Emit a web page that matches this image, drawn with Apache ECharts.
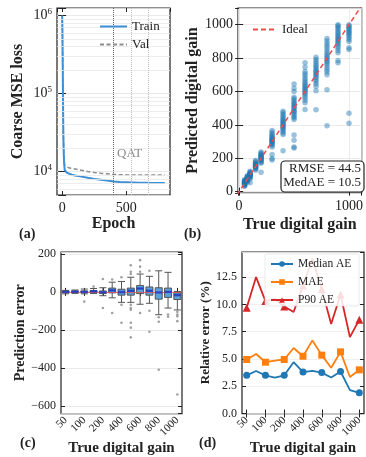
<!DOCTYPE html>
<html><head><meta charset="utf-8">
<script src="https://cdn.jsdelivr.net/npm/echarts@6/dist/echarts.min.js"></script>
<style>html,body{margin:0;padding:0;background:#fff}#c{width:366px;height:457px}</style>
</head><body><div id="c"></div>
<script>
const FONT = 'Liberation Serif';

// ---------- (a) training curves ----------
const epochs    = [0, 2, 4, 6, 8, 10, 13, 16, 20, 25, 35, 50, 75, 100, 150, 200, 250, 300, 350, 400, 450, 500, 550, 600, 650, 700, 750, 800];
const trainLoss = [1.0e6, 7e5, 3e5, 1.2e5, 5e4, 2.6e4, 1.6e4, 1.25e4, 1.05e4, 1.0e4, 9.7e3, 9.4e3, 9.1e3, 8.9e3, 8.6e3, 8.3e3, 8.05e3, 7.85e3, 7.65e3, 7.45e3, 7.35e3, 7.3e3, 7.25e3, 7.2e3, 7.18e3, 7.15e3, 7.12e3, 7.1e3];
const valLoss   = [9.0e5, 6e5, 2.8e5, 1.1e5, 4.8e4, 2.6e4, 1.7e4, 1.35e4, 1.2e4, 1.17e4, 1.15e4, 1.12e4, 1.1e4, 1.08e4, 1.04e4, 1.0e4, 9.7e3, 9.5e3, 9.35e3, 9.2e3, 9.1e3, 9.05e3, 9.05e3, 9.0e3, 9.0e3, 9.0e3, 9.0e3, 9.0e3];
const qatEpoch = 400;
const phaseEpochs = [540, 670];
const logMinorGrid = [6e3, 7e3, 8e3, 9e3, 2e4, 3e4, 4e4, 5e4, 6e4, 7e4, 8e4, 9e4, 2e5, 3e5, 4e5, 5e5, 6e5, 7e5, 8e5, 9e5];

// ---------- (b) predicted vs true ----------
const trueGains = [50, 75, 100, 150, 200, 300, 400, 500, 600, 700, 800, 900, 1000];
const pred50   = [32, 36, 40, 42, 44, 46, 48, 50, 52, 54, 55, 57, 58, 60, 62, 65, 68, 72];
const pred75   = [58, 62, 66, 68, 70, 72, 74, 76, 78, 80, 82, 85, 88, 92, 96];
const pred100  = [54, 78, 84, 88, 92, 95, 98, 100, 102, 104, 106, 108, 110, 114, 118, 122];
const pred150  = [128, 135, 140, 144, 148, 150, 152, 155, 158, 160, 163, 166, 170, 175, 180, 186];
const pred200  = [116, 170, 176, 182, 188, 192, 196, 200, 204, 208, 212, 216, 220, 226, 232, 238];
const pred300  = [190, 198, 222, 268, 276, 284, 290, 296, 300, 304, 308, 312, 318, 324, 330, 338, 346, 356, 366];
const pred400  = [245, 342, 352, 362, 372, 380, 388, 394, 400, 406, 412, 418, 426, 434, 442, 452, 462, 472, 482];
const pred500  = [262, 268, 308, 340, 432, 442, 452, 462, 472, 480, 488, 496, 504, 512, 520, 528, 536, 546, 556, 566, 600, 620, 645];
const pred600  = [492, 532, 548, 562, 574, 586, 596, 604, 612, 620, 628, 636, 646, 656, 668, 680, 694, 706, 720, 745, 772];
const pred700  = [490, 605, 632, 646, 660, 672, 684, 694, 702, 710, 718, 726, 736, 746, 756, 768, 780, 792, 805];
const pred800  = [395, 610, 700, 716, 730, 744, 758, 770, 780, 790, 800, 810, 820, 832, 846, 860, 874, 888, 902, 918];
const pred900  = [772, 786, 832, 846, 860, 872, 884, 894, 902, 910, 918, 926, 934, 944, 954, 964, 974, 984, 994, 1000];
const pred1000 = [410, 470, 852, 862, 900, 912, 924, 934, 944, 952, 960, 968, 976, 984, 992, 1000];
const predLists = [pred50, pred75, pred100, pred150, pred200, pred300, pred400, pred500, pred600, pred700, pred800, pred900, pred1000];
const idealLine = [[-100, -100], [1300, 1300]];
const rmseValue = 44.5;
const medaeValue = 10.5;

// ---------- (c) prediction error boxplots ----------
const gainLabels = ['50', '75', '100', '150', '200', '300', '400', '500', '600', '700', '800', '900', '1000'];
const boxLow  = [-10, -8, -10, -8, -20, -31, -55, -55, -65, -60, -120, -85, -95];
const boxQ1   = [-4, -3, -4, -2, -8, -5, -17, -17, -9, -17, -38, -29, -40];
const boxMed  = [0, 1, 0, 3, -2, 8, -1, 6, 18, 6, -3, 0, -17];
const boxQ3   = [4, 5, 5, 7, 5, 20, 14, 20, 34, 26, 22, 20, -5];
const boxHigh = [8, 10, 15, 18, 22, 51, 55, 77, 94, 82, 111, 103, 2];
const outlierCat = [2, 3, 4, 4, 5, 5, 6, 6, 6, 7, 7, 7, 7, 7, 7, 7, 7, 7, 8, 8, 8, 8, 9, 9, 9, 10, 10, 10, 11, 11, 12, 12, 12, 12, 12];
const outlierVal = [-51, 28, 68, -85, 65, -111, 77, -68, -162, 140, 106, 94, -68, -85, -94, -162, -188, -239, 167, 133, 106, -111, 111, -99, -210, -133, -157, -410, -119, -131, -105, -119, -128, -154, -540];

// ---------- (d) relative error ----------
const medianAE = [3.5, 3.9, 3.5, 3.3, 3.5, 4.7, 3.8, 3.9, 3.75, 3.3, 3.85, 2.15, 1.9];
const maeRel   = [4.95, 5.45, 4.7, 4.85, 4.95, 6.0, 5.25, 6.7, 5.35, 4.2, 5.65, 3.35, 4.0];
const p90AE    = [9.7, 12.5, 10.3, 10.5, 9.8, 9.3, 11.7, 14.2, 11.4, 8.2, 10.9, 7.0, 8.6];

// ---------- build ----------
const INK = '#222';
const TICK = { show: true, inside: true, length: 4, lineStyle: { color: INK, width: 1 } };
const nameStyle = (sz) => ({ fontFamily: FONT, fontSize: sz, fontWeight: 'bold', color: INK });
const lab = (sz, extra) => Object.assign({ fontFamily: FONT, fontSize: sz, color: INK }, extra || {});
const GRIDLINE = { show: true, lineStyle: { color: '#e4e4e4', width: 0.8 } };
const plain = v => String(v);

function mirror(ax, pos) {
  const m = Object.assign({}, ax);
  m.position = pos; m.name = '';
  m.axisLabel = { show: false };
  m.splitLine = { show: false };
  m.axisTick = Object.assign({}, ax.axisTick);
  return m;
}

const xa = { gridIndex: 0, type: 'value', min: -40, max: 840, splitNumber: 2,
  axisLine: { show: false }, axisTick: TICK, splitLine: { show: false },
  axisLabel: lab(14, { margin: 6, showMinLabel: false, showMaxLabel: false, formatter: plain }),
  name: 'Epoch', nameLocation: 'middle', nameGap: 19, nameTextStyle: nameStyle(16) };
const ya = { gridIndex: 0, type: 'log', logBase: 10, min: 5000, max: 1.25e6,
  axisLine: { show: false }, axisTick: TICK, splitLine: GRIDLINE,
  axisLabel: lab(14, { margin: 5,
    formatter: v => { const e = Math.log10(v); return Math.abs(e - Math.round(e)) < 1e-6 ? '{b|10}{s|' + Math.round(e) + '}' : ''; },
    rich: { b: { fontFamily: FONT, fontSize: 14, color: INK }, s: { fontFamily: FONT, fontSize: 9, color: INK, verticalAlign: 'top', padding: [0, 0, 8, 0] } } }),
  name: 'Coarse MSE loss', nameLocation: 'middle', nameGap: 31, nameTextStyle: nameStyle(16) };

const xb = { gridIndex: 1, type: 'value', min: -10, max: 1115, splitNumber: 1,
  axisLine: { show: false }, axisTick: TICK, splitLine: GRIDLINE,
  axisLabel: lab(14, { margin: 6, showMinLabel: false, showMaxLabel: false, formatter: plain }),
  name: 'True digital gain', nameLocation: 'middle', nameGap: 24, nameTextStyle: nameStyle(16) };
const yb = { gridIndex: 1, type: 'value', min: -8, max: 1100, splitNumber: 5,
  axisLine: { show: false }, axisTick: TICK, splitLine: GRIDLINE,
  axisLabel: lab(14, { margin: 5, showMinLabel: false, showMaxLabel: false, formatter: plain }),
  name: 'Predicted digital gain', nameLocation: 'middle', nameGap: 35, nameTextStyle: nameStyle(16) };

const catTick = { show: true, inside: true, length: 4, alignWithLabel: true, interval: 1, lineStyle: { color: INK, width: 1 } };
const xc = { gridIndex: 2, type: 'category', data: gainLabels, boundaryGap: true,
  axisLine: { show: false }, axisTick: catTick, splitLine: { show: false },
  axisLabel: lab(11, { interval: 1, rotate: 45, margin: 5 }),
  name: 'True digital gain', nameLocation: 'middle', nameGap: 25, nameTextStyle: nameStyle(15) };
const yc = { gridIndex: 2, type: 'value', min: -640, max: 210, splitNumber: 5,
  axisLine: { show: false }, axisTick: TICK, splitLine: GRIDLINE,
  axisLabel: lab(12, { margin: 5, showMinLabel: false, showMaxLabel: false, formatter: v => (v < 0 ? '\u2212' + (-v) : '' + v) }),
  name: 'Prediction error', nameLocation: 'middle', nameGap: 33, nameTextStyle: nameStyle(14) };

const xd = { gridIndex: 3, type: 'category', data: gainLabels, boundaryGap: true,
  axisLine: { show: false }, axisTick: catTick, splitLine: { show: false },
  axisLabel: lab(11, { interval: 1, rotate: 45, margin: 5 }),
  name: 'True digital gain', nameLocation: 'middle', nameGap: 25, nameTextStyle: nameStyle(15) };
const yd = { gridIndex: 3, type: 'value', min: 0, max: 14.8, interval: 2.5,
  axisLine: { show: false }, axisTick: TICK, splitLine: { show: true, lineStyle: { color: '#ececec', width: 0.8 } },
  axisLabel: lab(12, { margin: 5, showMaxLabel: false, formatter: v => v.toFixed(1) }),
  name: 'Relative error (%)', nameLocation: 'middle', nameGap: 30, nameTextStyle: nameStyle(13) };

const xAxes = [xa, mirror(xa, 'top'), xb, mirror(xb, 'top'), xc, mirror(xc, 'top'), xd, mirror(xd, 'top')];
const yAxes = [ya, mirror(ya, 'right'), yb, mirror(yb, 'right'), yc, mirror(yc, 'right'), yd, mirror(yd, 'right')];

const frame = { show: true, borderColor: INK, borderWidth: 1.2, backgroundColor: 'transparent' };
const grids = [
  Object.assign({ left: 57, top: 8, width: 113, height: 187 }, frame),
  Object.assign({ left: 238, top: 8, width: 127, height: 185 }, frame),
  Object.assign({ left: 61, top: 252, width: 121, height: 165 }, frame),
  Object.assign({ left: 242, top: 252, width: 122, height: 164 }, frame)
];

const series = [];
series.push({
  name: 'Val', type: 'line', xAxisIndex: 0, yAxisIndex: 0, symbol: 'none', z: 2,
  data: epochs.map((e, i) => [e, valLoss[i]]),
  lineStyle: { color: '#8c8c8c', width: 1.5, type: [4, 2.5] }, itemStyle: { color: '#8c8c8c' },
  markLine: { silent: true, symbol: 'none', label: { show: false }, animation: false,
    lineStyle: { color: '#e8e8e8', width: 0.8, type: 'solid' },
    data: logMinorGrid.map(v => ({ yAxis: v })) }
});
series.push({
  name: 'Train', type: 'line', xAxisIndex: 0, yAxisIndex: 0, symbol: 'none', z: 3,
  data: epochs.map((e, i) => [e, trainLoss[i]]),
  lineStyle: { color: '#3d8fd6', width: 2 }, itemStyle: { color: '#3d8fd6' },
  markLine: { silent: true, symbol: 'none', label: { show: false }, animation: false,
    lineStyle: { type: 'dotted', width: 1, color: '#bdbdbd' },
    data: [{ xAxis: qatEpoch, lineStyle: { color: '#666', type: 'dotted', width: 1 } }].concat(phaseEpochs.map(v => ({ xAxis: v }))) }
});

const pts = [];
trueGains.forEach((g, i) => predLists[i].forEach(p => pts.push([g, p])));
series.push({
  name: 'Samples', type: 'scatter', xAxisIndex: 2, yAxisIndex: 2, data: pts, symbolSize: 5.5, z: 2,
  itemStyle: { color: '#1f77b4', opacity: 0.45 }
});
series.push({
  name: 'Ideal', type: 'line', xAxisIndex: 2, yAxisIndex: 2, data: idealLine, symbol: 'none', z: 4, clip: true,
  lineStyle: { color: '#f04a4a', width: 1.5, type: [5, 3] }, itemStyle: { color: '#f04a4a' }
});

series.push({
  name: 'Error', type: 'boxplot', xAxisIndex: 4, yAxisIndex: 4, boxWidth: [7, 7], z: 3,
  data: gainLabels.map((_, i) => [boxLow[i], boxQ1[i], boxMed[i], boxQ3[i], boxHigh[i]]),
  itemStyle: { color: '#5aa2dc', borderColor: '#555', borderWidth: 1 },
  markLine: { silent: true, symbol: 'none', label: { show: false }, animation: false,
    lineStyle: { color: '#e05555', width: 1.2, type: 'solid', opacity: 0.8 }, data: [{ yAxis: 0 }] }
});
series.push({
  name: 'Median', type: 'scatter', xAxisIndex: 4, yAxisIndex: 4, symbol: 'rect', symbolSize: [7, 2.4], z: 5,
  data: boxMed.map((v, i) => [i, v]), itemStyle: { color: '#1c3ad0' }
});
series.push({
  name: 'Outliers', type: 'scatter', xAxisIndex: 4, yAxisIndex: 4, symbolSize: 2.6, z: 4,
  data: outlierCat.map((c, i) => [c, outlierVal[i]]), itemStyle: { color: '#8a8a8a' }
});

const lineD = (name, data, color, symbol, size) => ({
  name, type: 'line', xAxisIndex: 6, yAxisIndex: 6, data, symbol, symbolSize: size, z: 2, zlevel: 0,
  lineStyle: { color, width: 1.8 }, itemStyle: { color }
});
series.push(lineD('Median AE', medianAE, '#1f77b4', 'circle', 7));
series.push(lineD('MAE', maeRel, '#ff7f0e', 'rect', 7));
series.push(lineD('P90 AE', p90AE, '#d62728', 'triangle', 8));

const legText = (sz) => ({ fontFamily: FONT, fontSize: sz, color: INK });
const legends = [
  { data: ['Train', 'Val'], left: 94, top: 15, orient: 'vertical', itemWidth: 27, itemHeight: 10, itemGap: 5, textStyle: legText(13), selectedMode: false, itemStyle: { opacity: 0 }, z: 20 },
  { data: ['Ideal'], left: 247, top: 18, orient: 'vertical', itemWidth: 24, itemHeight: 10, textStyle: legText(13), selectedMode: false, itemStyle: { opacity: 0 }, z: 20 },
  { data: ['Median AE', 'MAE', 'P90 AE'], left: 266, top: 254, orient: 'vertical', itemWidth: 22, itemHeight: 7, itemGap: 6,
    padding: [4, 5, 4, 4], textStyle: legText(11.5), selectedMode: false, z: 20, zlevel: 2 }
];

const T = (txt, left, top, sz) => ({ type: 'text', left, top, z: 100,
  style: { text: txt, font: 'bold ' + sz + 'px ' + FONT, fill: INK } });
const graphics = [
  T('(a)', 19, 227, 14), T('(b)', 184, 227, 14), T('(c)', 20, 436, 14), T('(d)', 199, 436, 14),
  { type: 'text', left: 117, top: 147, z: 100, style: { text: 'QAT', font: '13px ' + FONT, fill: '#8a8a8a' } },
  { type: 'rect', z: 99, shape: { x: 281, y: 161, width: 83, height: 31, r: 4 }, style: { fill: '#fff', stroke: INK, lineWidth: 1.2 } },
  { type: 'text', right: 5, top: 162, z: 100, style: { text: 'RMSE = ' + rmseValue.toFixed(1), font: '13px ' + FONT, fill: INK } },
  { type: 'text', right: 5, top: 176, z: 100, style: { text: 'MedAE = ' + medaeValue.toFixed(1), font: '13px ' + FONT, fill: INK } },
  { type: 'rect', zlevel: 1, z: 1, shape: { x: 265, y: 254, width: 94, height: 52, r: 2 }, style: { fill: 'rgba(255,255,255,0.85)', stroke: 'rgba(215,215,215,0.7)', lineWidth: 0.8 } }
];

const chart = echarts.init(document.getElementById('c'), null, { renderer: 'canvas' });
chart.setOption({
  animation: false,
  backgroundColor: '#fff',
  textStyle: { fontFamily: FONT },
  grid: grids, xAxis: xAxes, yAxis: yAxes, series, legend: legends, graphic: graphics
});
</script></body></html>
